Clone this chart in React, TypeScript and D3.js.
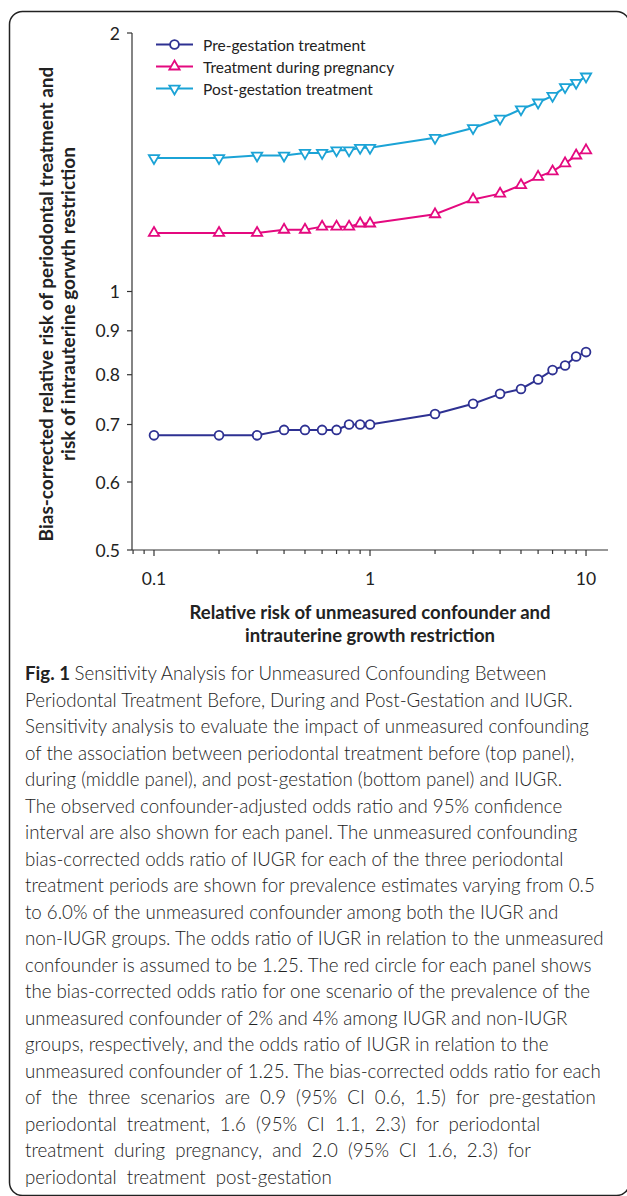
import React from "react";
import * as d3 from "d3";

// relative risk of the unmeasured confounder (x)
const riskValues = [0.1, 0.2, 0.3, 0.4, 0.5, 0.6, 0.7, 0.8, 0.9, 1, 2, 3, 4, 5, 6, 7, 8, 9, 10];

// bias-corrected relative risk (y)
const preGestation = [0.68, 0.68, 0.68, 0.69, 0.69, 0.69, 0.69, 0.7, 0.7, 0.7, 0.72, 0.74, 0.76, 0.77, 0.79, 0.81, 0.82, 0.84, 0.85];
const duringPregnancy = [1.17, 1.17, 1.17, 1.18, 1.18, 1.19, 1.19, 1.19, 1.2, 1.2, 1.23, 1.28, 1.3, 1.33, 1.36, 1.38, 1.41, 1.44, 1.46];
const postGestation = [1.43, 1.43, 1.44, 1.44, 1.45, 1.45, 1.46, 1.46, 1.47, 1.47, 1.51, 1.55, 1.59, 1.63, 1.66, 1.69, 1.73, 1.75, 1.78];

const seriesNames = ["Pre-gestation treatment", "Treatment during pregnancy", "Post-gestation treatment"];
const seriesColors = ["#2E3192", "#E4097F", "#1BA3D6"];
const seriesMarkers = ["circle", "up", "down"];

const yTickValues = [0.5, 0.6, 0.7, 0.8, 0.9, 1, 2];
const xLabelValues = [0.1, 1, 10];
const xMinorTicks = [0.08, 0.09, 0.2, 0.3, 0.4, 0.5, 0.6, 0.7, 0.8, 0.9, 2, 3, 4, 5, 6, 7, 8, 9];

const yTitleLines = [
  "Bias-corrected relative risk of periodontal treatment and",
  "risk of intrauterine gorwth restriction",
];
const xTitleLines = [
  "Relative risk of unmeasured confounder and",
  "intrauterine growth restriction",
];

const captionLines = [
  "Sensitivity Analysis for Unmeasured Confounding Between",
  "Periodontal Treatment Before, During and Post-Gestation and IUGR.",
  "Sensitivity analysis to evaluate the impact of unmeasured confounding",
  "of the association between periodontal treatment before (top panel),",
  "during (middle panel), and post-gestation (bottom panel) and IUGR.",
  "The observed confounder-adjusted odds ratio and 95% confidence",
  "interval are also shown for each panel. The unmeasured confounding",
  "bias-corrected odds ratio of IUGR for each of the three periodontal",
  "treatment periods are shown for prevalence estimates varying from 0.5",
  "to 6.0% of the unmeasured confounder among both the IUGR and",
  "non-IUGR groups. The odds ratio of IUGR in relation to the unmeasured",
  "confounder is assumed to be 1.25. The red circle for each panel shows",
  "the bias-corrected odds ratio for one scenario of the prevalence of the",
  "unmeasured confounder of 2% and 4% among IUGR and non-IUGR",
  "groups, respectively, and the odds ratio of IUGR in relation to the",
  "unmeasured confounder of 1.25. The bias-corrected odds ratio for each",
  "of the three scenarios are 0.9 (95% CI 0.6, 1.5) for pre-gestation",
  "periodontal treatment, 1.6 (95% CI 1.1, 2.3) for periodontal",
  "treatment during pregnancy, and 2.0 (95% CI 1.6, 2.3) for",
  "periodontal treatment post-gestation",
];

const W = 627;
const H = 1196;
const chartFont = "Lato, 'Liberation Sans', sans-serif";
const captionFont = "Lato, 'Open Sans', sans-serif";

const Marker = ({ type, x, y, color }: { type: string; x: number; y: number; color: string }) => {
  if (type === "circle") {
    return <circle cx={x} cy={y} r={4.4} fill="#fff" stroke={color} strokeWidth={1.8} />;
  }
  const path = d3.symbol(d3.symbolTriangle, 46)() as string;
  return (
    <path
      d={path}
      transform={`translate(${x},${y})${type === "down" ? " rotate(180)" : ""}`}
      fill="#fff"
      stroke={color}
      strokeWidth={1.8}
    />
  );
};

export default function App() {
  const x = d3.scaleLog().domain([0.0791, 12.64]).range([132, 608]);
  const y = d3.scaleLog().domain([0.5, 2]).range([550, 33]);
  const x0 = x.range()[0];
  const x1 = x.range()[1];
  const yBottom = y(0.5);

  const allSeries = [preGestation, duringPregnancy, postGestation];
  const line = d3
    .line<number>()
    .x((_, i) => x(riskValues[i]))
    .y((d) => y(d));

  return (
    <svg
      width={W}
      height={H}
      style={{ position: "absolute", left: 0, top: 0, background: "#fff" }}
    >
      {/* frame */}
      <rect x={9.5} y={11.5} width={620} height={1184} rx={13} fill="none" stroke="#222" strokeWidth={1.5} />

      {/* axes */}
      <g fill="none" stroke="#333" strokeWidth={1.2}>
        <line x1={x0} x2={x0} y1={y(2)} y2={yBottom} />
        <line x1={x0} x2={x1} y1={yBottom} y2={yBottom} />
        {yTickValues.map((v) => (
          <line key={v} x1={x0 - 5} x2={x0} y1={y(v)} y2={y(v)} />
        ))}
        {xLabelValues.map((v) => (
          <line key={v} x1={x(v)} x2={x(v)} y1={yBottom} y2={yBottom + 6} />
        ))}
        {xMinorTicks.map((v) => (
          <line key={v} x1={x(v)} x2={x(v)} y1={yBottom} y2={yBottom + 4} />
        ))}
      </g>

      <g fontFamily={chartFont} fontSize={17.5} fill="#222">
        {yTickValues.map((v) => (
          <text key={v} x={120} y={y(v)} textAnchor="end" dominantBaseline="central">
            {v}
          </text>
        ))}
        {xLabelValues.map((v) => (
          <text key={v} x={x(v)} y={578} textAnchor="middle" dominantBaseline="central">
            {v}
          </text>
        ))}
      </g>

      {/* axis titles */}
      <g fontFamily={chartFont} fontWeight="bold" fill="#222">
        {yTitleLines.map((t, i) => (
          <text
            key={t}
            transform={`translate(${45 + i * 22},304) rotate(-90)`}
            textAnchor="middle"
            dominantBaseline="central"
            fontSize={19}
          >
            {t}
          </text>
        ))}
        {xTitleLines.map((t, i) => (
          <text
            key={t}
            x={370}
            y={612 + i * 23}
            textAnchor="middle"
            dominantBaseline="central"
            fontSize={18.5}
          >
            {t}
          </text>
        ))}
      </g>

      {/* series */}
      {allSeries.map((s, k) => (
        <g key={seriesNames[k]}>
          <path d={line(s) as string} fill="none" stroke={seriesColors[k]} strokeWidth={2} />
          {s.map((v, i) => (
            <Marker key={i} type={seriesMarkers[k]} x={x(riskValues[i])} y={y(v)} color={seriesColors[k]} />
          ))}
        </g>
      ))}

      {/* legend */}
      <g fontFamily={chartFont} fontSize={15.5} fill="#222">
        {seriesNames.map((name, k) => {
          const ly = 44.5 + k * 22;
          return (
            <g key={name}>
              <line x1={156} x2={193} y1={ly} y2={ly} stroke={seriesColors[k]} strokeWidth={2} />
              <Marker type={seriesMarkers[k]} x={174.5} y={ly} color={seriesColors[k]} />
              <text x={203} y={ly} dominantBaseline="central">
                {name}
              </text>
            </g>
          );
        })}
      </g>

      {/* caption */}
      <g fontFamily={captionFont} fontSize={18.7} fontWeight={300} fill="#222">
        {captionLines.map((t, i) => (
          <text key={i} x={25} y={680 + i * 26.5} wordSpacing={i >= 16 ? 5 : 0}>
            {i === 0 && (
              <tspan fontWeight="bold">{"Fig. 1 "}</tspan>
            )}
            {t}
          </text>
        ))}
      </g>
    </svg>
  );
}
